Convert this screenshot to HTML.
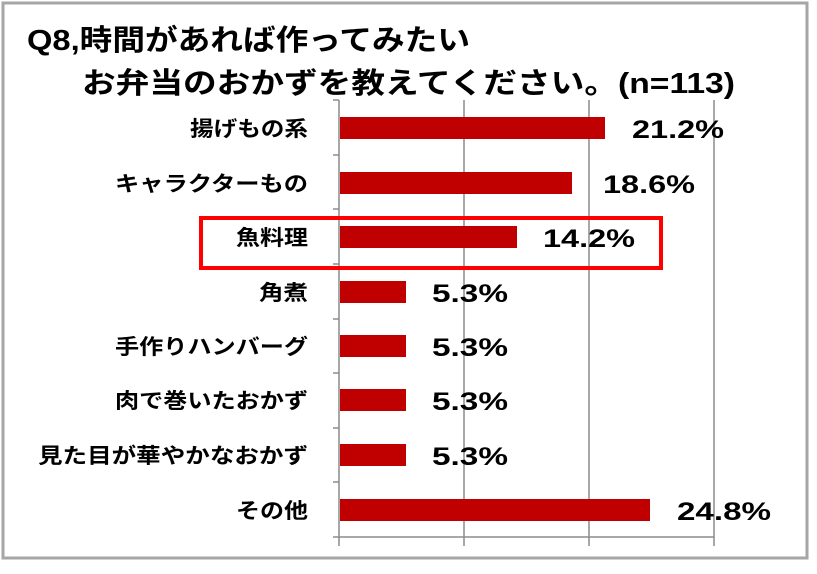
<!DOCTYPE html>
<html><head><meta charset="utf-8"><style>
body{margin:0;background:#fff;}
svg text{font-family:"Liberation Sans","Noto Sans CJK JP",sans-serif;}
</style></head><body>
<svg width="817" height="569" xmlns="http://www.w3.org/2000/svg">
<rect x="0" y="0" width="817" height="569" fill="#fff"/>
<rect x="3" y="3" width="804" height="555" fill="none" stroke="#a6a6a6" stroke-width="3"/>
<text x="27" y="50" font-size="29" font-weight="bold" fill="#000" textLength="443" lengthAdjust="spacingAndGlyphs">Q8,時間があれば作ってみたい</text>
<text x="82" y="93" font-size="29" font-weight="bold" fill="#000" textLength="653" lengthAdjust="spacingAndGlyphs">お弁当のおかずを教えてください。(n=113)</text>
<g stroke="#8c8c8c" stroke-width="1.5">
<line x1="339" y1="100" x2="339" y2="546"/>
<line x1="464" y1="100" x2="464" y2="546"/>
<line x1="589" y1="100" x2="589" y2="546"/>
<line x1="714" y1="100" x2="714" y2="546"/>
<line x1="333" y1="537" x2="714" y2="537"/>
<line x1="333" y1="100" x2="339" y2="100"/>
<line x1="333" y1="155" x2="339" y2="155"/>
<line x1="333" y1="209" x2="339" y2="209"/>
<line x1="333" y1="264" x2="339" y2="264"/>
<line x1="333" y1="319" x2="339" y2="319"/>
<line x1="333" y1="373" x2="339" y2="373"/>
<line x1="333" y1="428" x2="339" y2="428"/>
<line x1="333" y1="482" x2="339" y2="482"/>
</g>
<g fill="#c00000">
<rect x="340" y="117" width="265" height="22"/>
<rect x="340" y="172" width="232" height="22"/>
<rect x="340" y="226" width="177" height="22"/>
<rect x="340" y="281" width="66" height="22"/>
<rect x="340" y="335" width="66" height="22"/>
<rect x="340" y="389" width="66" height="22"/>
<rect x="340" y="444" width="66" height="22"/>
<rect x="340" y="499" width="310" height="22"/>
</g>
<g font-size="21" font-weight="bold" fill="#000" lengthAdjust="spacingAndGlyphs">
<text x="190" y="136" textLength="118" lengthAdjust="spacingAndGlyphs">揚げもの系</text>
<text x="115" y="191" textLength="193" lengthAdjust="spacingAndGlyphs">キャラクターもの</text>
<text x="236" y="245" textLength="72" lengthAdjust="spacingAndGlyphs">魚料理</text>
<text x="259" y="300" textLength="49" lengthAdjust="spacingAndGlyphs">角煮</text>
<text x="115" y="354" textLength="193" lengthAdjust="spacingAndGlyphs">手作りハンバーグ</text>
<text x="115" y="408" textLength="193" lengthAdjust="spacingAndGlyphs">肉で巻いたおかず</text>
<text x="38" y="463" textLength="270" lengthAdjust="spacingAndGlyphs">見た目が華やかなおかず</text>
<text x="236" y="518" textLength="72" lengthAdjust="spacingAndGlyphs">その他</text>
</g>
<g font-size="25" font-weight="bold" fill="#000">
<text x="632" y="138" textLength="92" lengthAdjust="spacingAndGlyphs">21.2%</text>
<text x="603" y="193" textLength="92" lengthAdjust="spacingAndGlyphs">18.6%</text>
<text x="543" y="247" textLength="92" lengthAdjust="spacingAndGlyphs">14.2%</text>
<text x="432" y="302" textLength="76" lengthAdjust="spacingAndGlyphs">5.3%</text>
<text x="432" y="356" textLength="76" lengthAdjust="spacingAndGlyphs">5.3%</text>
<text x="432" y="410" textLength="76" lengthAdjust="spacingAndGlyphs">5.3%</text>
<text x="432" y="465" textLength="76" lengthAdjust="spacingAndGlyphs">5.3%</text>
<text x="677" y="520" textLength="94" lengthAdjust="spacingAndGlyphs">24.8%</text>
</g>
<rect x="201" y="218" width="460" height="50" fill="none" stroke="#ff0000" stroke-width="4"/>
</svg>
</body></html>
